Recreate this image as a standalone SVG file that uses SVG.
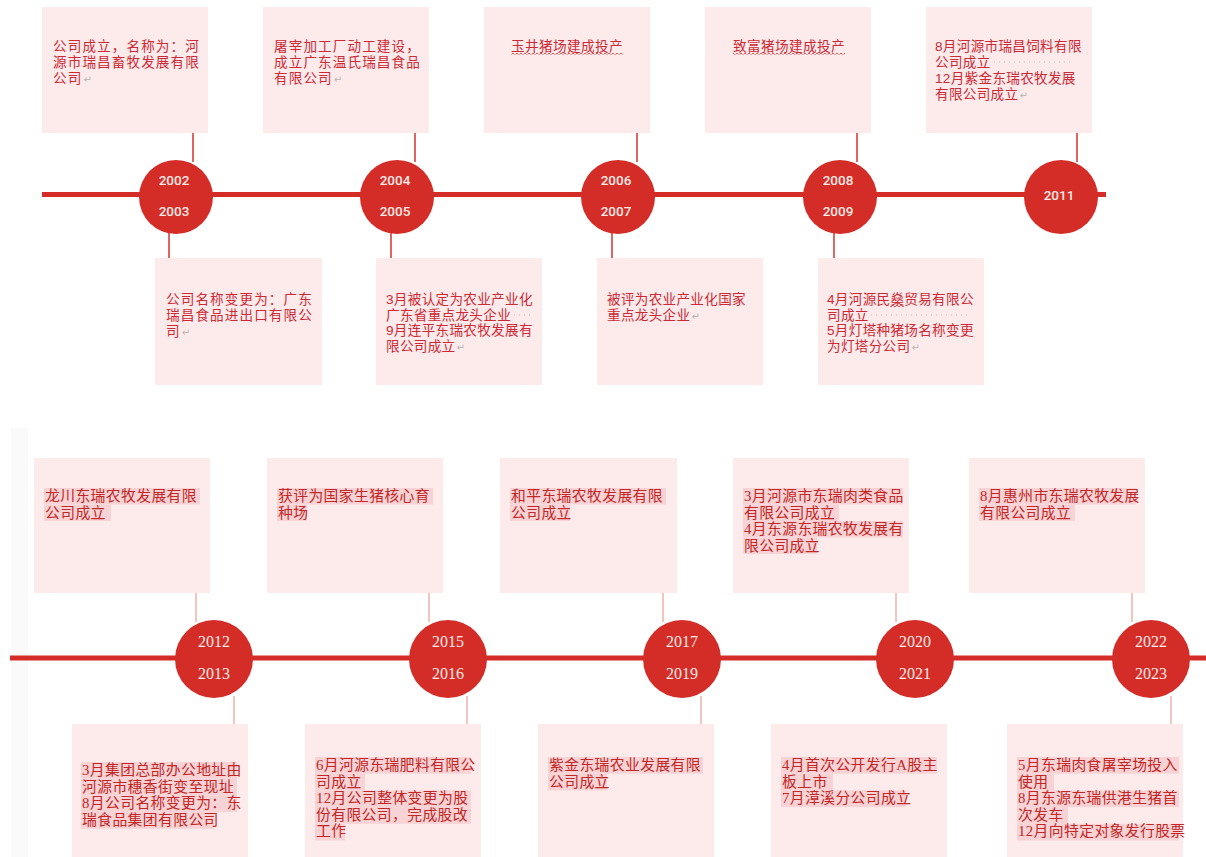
<svg xmlns="http://www.w3.org/2000/svg" width="1206" height="857" viewBox="0 0 1206 857">
<style>
.box{fill:#fdebeb}
.box2{fill:#fdeaea}
.t{font-family:"Liberation Sans","Noto Sans CJK SC",sans-serif;font-size:13.6px;fill:#cc2936;letter-spacing:0.3px}
.ts{letter-spacing:1.1px}
.b{font-family:"Liberation Serif","Noto Sans CJK SC",serif;font-size:14.8px;fill:#c22626;letter-spacing:0.4px}
.hl{fill:#f8d3d5}
.pm{font-family:"DejaVu Sans",sans-serif;font-size:10px;fill:#b5b5b5;letter-spacing:0}
.yr{font-family:Roboto,"Liberation Sans",sans-serif;font-size:13.5px;font-weight:500;fill:#fbeae6;text-anchor:middle}
.yr2{font-family:"Liberation Serif",serif;font-size:16px;fill:#fbeae6;text-anchor:middle}
.circ{fill:#d42d28}
.tl{stroke:#d42d28;stroke-width:5}
.c1{stroke:#d2332f;stroke-width:1.5;fill:none}
.c2{stroke:#f0b2a7;stroke-width:1.5;fill:none}
.dots{stroke:#bdbdbd;stroke-width:1;stroke-dasharray:1 4;fill:none}
</style>
<defs>
<pattern id="wv" width="4" height="4" patternUnits="userSpaceOnUse"><path d="M0 2 L1 1 L3 3 L4 2" stroke="#e03030" stroke-width="0.8" fill="none"/></pattern>
</defs>
<rect width="1206" height="857" fill="#ffffff"/>
<rect x="11" y="428" width="17" height="429" fill="#fafafa"/>

<!-- timelines -->
<g id="timelines">
<line class="tl" x1="42" y1="194.5" x2="1106" y2="194.5"/>
<line class="tl" x1="10" y1="658" x2="1206" y2="658"/>
</g>

<!-- connectors -->
<g id="connectors">
<line class="c1" x1="193" y1="116" x2="193" y2="162"/>
<line class="c1" x1="415" y1="116" x2="415" y2="162"/>
<line class="c1" x1="637" y1="116" x2="637" y2="162"/>
<line class="c1" x1="857" y1="116" x2="857" y2="162"/>
<line class="c1" x1="1077" y1="116" x2="1077" y2="162"/>
<line class="c1" x1="169" y1="232" x2="169" y2="278"/>
<line class="c1" x1="391" y1="232" x2="391" y2="278"/>
<line class="c1" x1="612" y1="232" x2="612" y2="278"/>
<line class="c1" x1="834" y1="232" x2="834" y2="278"/>
<line class="c2" x1="196" y1="573" x2="196" y2="622"/>
<line class="c2" x1="429" y1="573" x2="429" y2="622"/>
<line class="c2" x1="663" y1="573" x2="663" y2="622"/>
<line class="c2" x1="896" y1="573" x2="896" y2="622"/>
<line class="c2" x1="1132" y1="573" x2="1132" y2="622"/>
<line class="c2" x1="234" y1="696" x2="234" y2="745"/>
<line class="c2" x1="467" y1="696" x2="467" y2="745"/>
<line class="c2" x1="701" y1="696" x2="701" y2="745"/>
<line class="c2" x1="1171" y1="696" x2="1171" y2="745"/>
</g>

<!-- year circles, top -->
<g id="y2002-2003"><circle class="circ" cx="176" cy="197" r="37"/><text class="yr" x="174" y="185">2002</text><text class="yr" x="174" y="216">2003</text></g>
<g id="y2004-2005"><circle class="circ" cx="397" cy="197" r="37"/><text class="yr" x="395" y="185">2004</text><text class="yr" x="395" y="216">2005</text></g>
<g id="y2006-2007"><circle class="circ" cx="618" cy="197" r="37"/><text class="yr" x="616" y="185">2006</text><text class="yr" x="616" y="216">2007</text></g>
<g id="y2008-2009"><circle class="circ" cx="840" cy="197" r="37"/><text class="yr" x="838" y="185">2008</text><text class="yr" x="838" y="216">2009</text></g>
<g id="y2011"><circle class="circ" cx="1061" cy="197" r="37"/><text class="yr" x="1059" y="200">2011</text></g>

<!-- year circles, bottom -->
<g id="y2012-2013"><circle class="circ" cx="214" cy="659" r="39"/><text class="yr2" x="214" y="647">2012</text><text class="yr2" x="214" y="679">2013</text></g>
<g id="y2015-2016"><circle class="circ" cx="448" cy="659" r="39"/><text class="yr2" x="448" y="647">2015</text><text class="yr2" x="448" y="679">2016</text></g>
<g id="y2017-2019"><circle class="circ" cx="682" cy="659" r="39"/><text class="yr2" x="682" y="647">2017</text><text class="yr2" x="682" y="679">2019</text></g>
<g id="y2020-2021"><circle class="circ" cx="915" cy="659" r="39"/><text class="yr2" x="915" y="647">2020</text><text class="yr2" x="915" y="679">2021</text></g>
<g id="y2022-2023"><circle class="circ" cx="1151" cy="659" r="39"/><text class="yr2" x="1151" y="647">2022</text><text class="yr2" x="1151" y="679">2023</text></g>

<!-- top row boxes -->
<g id="e2002">
<rect class="box" x="42" y="7" width="166" height="126"/>
<text class="t ts" x="53" y="51">公司成立，名称为：河<tspan x="53" dy="16">源市瑞昌畜牧发展有限</tspan><tspan x="53" dy="16">公司</tspan><tspan class="pm" dx="1">↵</tspan></text>
</g>
<g id="e2004">
<rect class="box" x="263" y="7" width="166" height="126"/>
<text class="t ts" x="274" y="51">屠宰加工厂动工建设，<tspan x="274" dy="16">成立广东温氏瑞昌食品</tspan><tspan x="274" dy="16">有限公司</tspan><tspan class="pm" dx="1">↵</tspan></text>
</g>
<g id="e2006">
<rect class="box" x="484" y="7" width="166" height="126"/>
<text class="t" x="567" y="51" text-anchor="middle" style="letter-spacing:0.4px">玉井猪场建成投产</text>
<rect x="511" y="51" width="112" height="3.5" fill="url(#wv)"/>
</g>
<g id="e2008">
<rect class="box" x="705" y="7" width="166" height="126"/>
<text class="t" x="789" y="51" text-anchor="middle" style="letter-spacing:0.4px">致富猪场建成投产</text>
<rect x="733" y="51" width="112" height="3.5" fill="url(#wv)"/>
</g>
<g id="e2011">
<rect class="box" x="926" y="7" width="166" height="126"/>
<text class="t" x="935" y="51">8月河源市瑞昌饲料有限<tspan x="935" dy="16">公司成立</tspan><tspan x="935" dy="16">12月紫金东瑞农牧发展</tspan><tspan x="935" dy="16">有限公司成立</tspan><tspan class="pm" dx="1">↵</tspan></text>
<line class="dots" x1="994" y1="62" x2="1073" y2="62"/>
</g>

<!-- top section lower boxes -->
<g id="e2003">
<rect class="box" x="155" y="258" width="167" height="127"/>
<text class="t ts" x="166" y="304">公司名称变更为：广东<tspan x="166" dy="15.8">瑞昌食品进出口有限公</tspan><tspan x="166" dy="15.8">司</tspan><tspan class="pm" dx="1">↵</tspan></text>
</g>
<g id="e2005">
<rect class="box" x="376" y="258" width="166" height="127"/>
<text class="t" x="386" y="304">3月被认定为农业产业化<tspan x="386" dy="15.7">广东省重点龙头企业</tspan><tspan x="386" dy="15.7">9月连平东瑞农牧发展有</tspan><tspan x="386" dy="15.7">限公司成立</tspan><tspan class="pm" dx="1">↵</tspan></text>
<line class="dots" x1="514" y1="315" x2="530" y2="315"/>
</g>
<g id="e2007">
<rect class="box" x="597" y="258" width="166" height="127"/>
<text class="t" x="607" y="304">被评为农业产业化国家<tspan x="607" dy="15.7">重点龙头企业</tspan><tspan class="pm" dx="1">↵</tspan></text>
</g>
<g id="e2009">
<rect class="box" x="818" y="258" width="166" height="127"/>
<text class="t" x="827" y="304">4月河源民燊贸易有限公<tspan x="827" dy="15.7">司成立</tspan><tspan x="827" dy="15.7">5月灯塔种猪场名称变更</tspan><tspan x="827" dy="15.7">为灯塔分公司</tspan><tspan class="pm" dx="1">↵</tspan></text>
<rect x="890" y="305" width="14" height="3.5" fill="url(#wv)"/>
<line class="dots" x1="871" y1="315" x2="971" y2="315"/>
</g>

<!-- bottom section top boxes -->
<g id="e2012">
<rect class="box2" x="34" y="458" width="176" height="135"/>
<rect class="hl" x="44" y="488" width="156" height="16.5"/>
<rect class="hl" x="44" y="504.5" width="67" height="16.5"/>
<text class="b" x="45" y="501">龙川东瑞农牧发展有限<tspan x="45" dy="17">公司成立</tspan></text>
</g>
<g id="e2015">
<rect class="box2" x="267" y="458" width="176" height="135"/>
<rect class="hl" x="277" y="488" width="156" height="16.5"/>
<rect class="hl" x="277" y="504.5" width="30" height="16.5"/>
<text class="b" x="278" y="501">获评为国家生猪核心育<tspan x="278" dy="17">种场</tspan></text>
</g>
<g id="e2017">
<rect class="box2" x="500" y="458" width="177" height="135"/>
<rect class="hl" x="510" y="488" width="156" height="16.5"/>
<rect class="hl" x="510" y="504.5" width="60" height="16.5"/>
<text class="b" x="511" y="501">和平东瑞农牧发展有限<tspan x="511" dy="17">公司成立</tspan></text>
</g>
<g id="e2020">
<rect class="box2" x="733" y="458" width="176" height="135"/>
<rect class="hl" x="743" y="488" width="160" height="16.5"/>
<rect class="hl" x="743" y="504.5" width="96" height="16.5"/>
<rect class="hl" x="743" y="521" width="160" height="16.5"/>
<rect class="hl" x="743" y="537.5" width="74" height="16.5"/>
<text class="b" x="744" y="501">3月河源市东瑞肉类食品<tspan x="744" dy="16.7">有限公司成立</tspan><tspan x="744" dy="16.7">4月东源东瑞农牧发展有</tspan><tspan x="744" dy="16.7">限公司成立</tspan></text>
</g>
<g id="e2022">
<rect class="box2" x="969" y="458" width="176" height="135"/>
<rect class="hl" x="979" y="488" width="157" height="16.5"/>
<rect class="hl" x="979" y="504.5" width="96" height="16.5"/>
<text class="b" x="980" y="501">8月惠州市东瑞农牧发展<tspan x="980" dy="17">有限公司成立</tspan></text>
</g>

<!-- bottom section lower boxes -->
<g id="e2013">
<rect class="box2" x="72" y="724" width="176" height="133"/>
<rect class="hl" x="81" y="762" width="156" height="16.7"/>
<rect class="hl" x="81" y="778.7" width="156" height="16.7"/>
<rect class="hl" x="81" y="795.4" width="156" height="16.7"/>
<rect class="hl" x="81" y="812.1" width="133" height="16.7"/>
<text class="b" x="82" y="775">3月集团总部办公地址由<tspan x="82" dy="16.7">河源市穗香街变至现址</tspan><tspan x="82" dy="16.7">8月公司名称变更为：东</tspan><tspan x="82" dy="16.7">瑞食品集团有限公司</tspan></text>
</g>
<g id="e2016">
<rect class="box2" x="305" y="724" width="176" height="133"/>
<rect class="hl" x="315" y="757" width="156" height="16.7"/>
<rect class="hl" x="315" y="773.7" width="50" height="16.7"/>
<rect class="hl" x="315" y="790.4" width="156" height="16.7"/>
<rect class="hl" x="315" y="807.1" width="156" height="16.7"/>
<rect class="hl" x="315" y="823.8" width="30" height="16.7"/>
<text class="b" x="316" y="770">6月河源东瑞肥料有限公<tspan x="316" dy="16.6">司成立</tspan><tspan x="316" dy="16.6">12月公司整体变更为股</tspan><tspan x="316" dy="16.6">份有限公司，完成股改</tspan><tspan x="316" dy="16.6">工作</tspan></text>
</g>
<g id="e2019">
<rect class="box2" x="538" y="724" width="176" height="133"/>
<rect class="hl" x="548" y="757" width="155" height="16.7"/>
<rect class="hl" x="548" y="773.7" width="59" height="16.7"/>
<text class="b" x="549" y="770">紫金东瑞农业发展有限<tspan x="549" dy="16.6">公司成立</tspan></text>
</g>
<g id="e2021">
<rect class="box2" x="771" y="724" width="176" height="133"/>
<rect class="hl" x="781" y="757" width="156" height="16.7"/>
<rect class="hl" x="781" y="773.7" width="52" height="16.7"/>
<rect class="hl" x="781" y="790.4" width="125" height="16.7"/>
<text class="b" x="782" y="770">4月首次公开发行A股主<tspan x="782" dy="16.6">板上市</tspan><tspan x="782" dy="16.6">7月漳溪分公司成立</tspan></text>
</g>
<g id="e2023">
<rect class="box2" x="1007" y="724" width="176" height="133"/>
<rect class="hl" x="1017" y="757" width="162" height="16.7"/>
<rect class="hl" x="1017" y="773.7" width="37" height="16.7"/>
<rect class="hl" x="1017" y="790.4" width="162" height="16.7"/>
<rect class="hl" x="1017" y="807.1" width="51" height="16.7"/>
<rect class="hl" x="1017" y="823.8" width="162" height="16.7"/>
<text class="b" x="1018" y="770">5月东瑞肉食屠宰场投入<tspan x="1018" dy="16.6">使用</tspan><tspan x="1018" dy="16.6">8月东源东瑞供港生猪首</tspan><tspan x="1018" dy="16.6">次发车</tspan><tspan x="1018" dy="16.6">12月向特定对象发行股票</tspan></text>
</g>
</svg>
